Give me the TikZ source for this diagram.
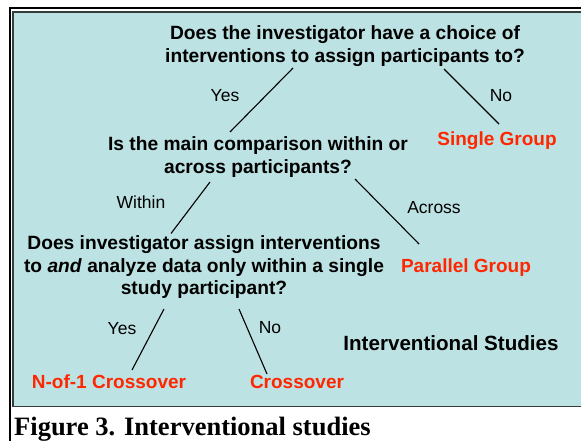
\documentclass[tikz,border=0pt]{standalone}
\usepackage{fontspec}
\setmainfont{Liberation Sans}
\newfontfamily\captionserif{Liberation Serif}
\definecolor{panelteal}{RGB}{189,226,227}
\definecolor{panelrim}{RGB}{52,60,60}
\definecolor{outcomered}{RGB}{255,38,0}
\begin{document}
\begin{tikzpicture}[x=1pt,y=-1pt,
  question/.style={font=\bfseries\fontsize{19.2}{22.5}\selectfont, align=center, inner sep=0pt},
  answer/.style={font=\fontsize{17.5}{20}\selectfont, inner sep=0pt, anchor=base},
  outcome/.style={font=\bfseries\fontsize{19}{22}\selectfont, text=outcomered, inner sep=0pt, anchor=base},
  branch/.style={draw=black, line width=1.1pt}]
\useasboundingbox (0,0) rectangle (581,441);
% page background, frame and panel
\fill[white] (0,0) rectangle (581,441);
\draw[black, line width=2.6pt] (10,445) -- (10,8) -- (590,8);
\fill[panelteal] (12.5,11.5) rectangle (590,406.5);
\draw[panelrim, line width=1.6pt] (590,11.8) -- (12.8,11.8) -- (12.8,406.3) -- (590,406.3);

% questions
\node[question] (q1) at (345,46) {Does the investigator have a choice of\\interventions to assign participants to?};
\node[question] (q2) at (258,157) {Is the main comparison within or\\across participants?};
\node[question] (q3) at (204,267.5) {Does investigator assign interventions\\to \textit{and} analyze data only within a single\\study participant?};

% outcomes
\node[outcome] (single) at (497,146) {Single Group};
\node[outcome] (parallel) at (466,272) {Parallel Group};
\node[outcome] (nof1) at (109,388) {N-of-1 Crossover};
\node[outcome] (cross) at (297,388) {Crossover};

% branch labels
\node[answer] (yes1) at (225,102) {Yes};
\node[answer] (no1) at (501,102) {No};
\node[answer] (within) at (141,208) {Within};
\node[answer] (across) at (434,213) {Across};
\node[answer] (yes2) at (122,334) {Yes};
\node[answer] (no2) at (270,333) {No};

% title
\node[font=\bfseries\fontsize{20.6}{23}\selectfont, inner sep=0pt, anchor=base] (title) at (451,350) {Interventional Studies};

% branches
\draw[branch] ([shift={(-52,22)}]q1.center) -- ([shift={(-28,-25)}]q2.center);
\draw[branch] ([shift={(99,23)}]q1.center) -- ([shift={(2,-22)}]single.base);
\draw[branch] ([shift={(-48,25)}]q2.center) -- ([shift={(-33,-34)}]q3.center);
\draw[branch] ([shift={(97,22)}]q2.center) -- ([shift={(-47,-28)}]parallel.base);
\draw[branch] ([shift={(-40,41.5)}]q3.center) -- ([shift={(23,-18)}]nof1.base);
\draw[branch] ([shift={(35,41.5)}]q3.center) -- ([shift={(-30,-14)}]cross.base);

% caption
\node[font=\captionserif\bfseries\fontsize{26.5}{30}\selectfont, inner sep=0pt, anchor=base west] (caption) at (14,435) {Figure 3. Interventional studies};
\end{tikzpicture}
\end{document}
